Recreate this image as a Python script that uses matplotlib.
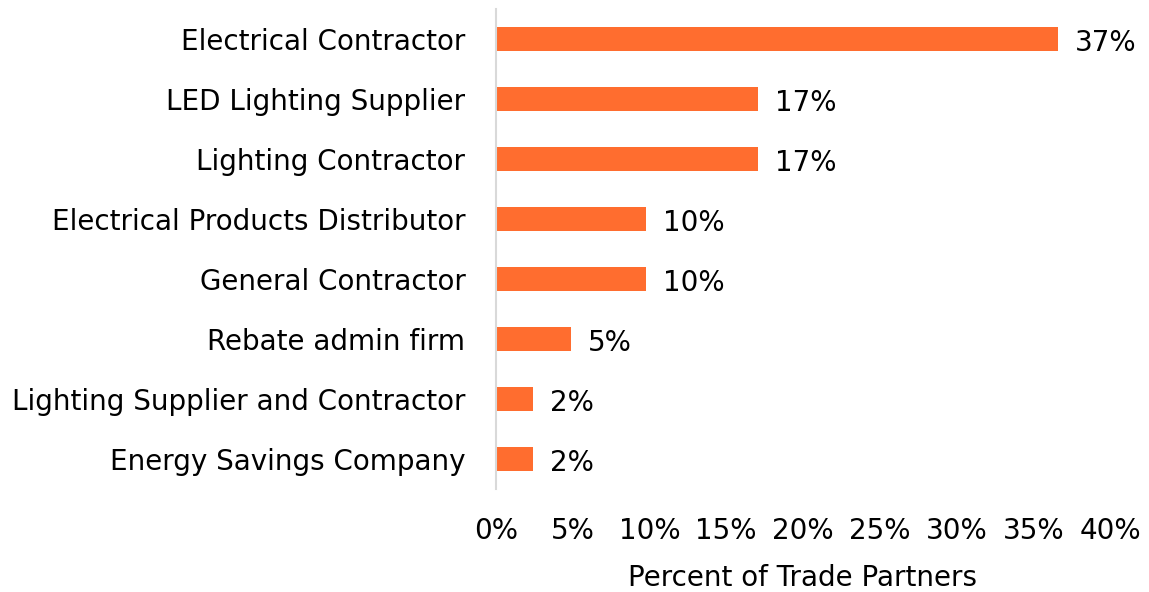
import matplotlib
matplotlib.use("Agg")
import matplotlib.pyplot as plt
from matplotlib.ticker import FuncFormatter

categories = [
    "Electrical Contractor",
    "LED Lighting Supplier",
    "Lighting Contractor",
    "Electrical Products Distributor",
    "General Contractor",
    "Rebate admin firm",
    "Lighting Supplier and Contractor",
    "Energy Savings Company",
]
# shares of 41 trade partners, in percent
values = [36.6, 17.1, 17.1, 9.8, 9.8, 4.9, 2.4, 2.4]
xticks = [0, 5, 10, 15, 20, 25, 30, 35, 40]

plt.rcParams["font.family"] = ["DejaVu Sans"]
fs = 20

fig = plt.figure(figsize=(11.49, 5.92), dpi=100)
ax = fig.add_axes([496 / 1149, 1 - 489 / 592, 614 / 1149, 480 / 592])

ypos = list(range(len(categories)))
ax.barh(ypos, values, height=0.4, color="#ff6d2f")
ax.set_ylim(len(categories) - 0.5, -0.5)
ax.set_xlim(0, 40)
ax.set_yticks(ypos)
ax.set_yticklabels(categories, fontsize=fs)
ax.set_xticks(xticks)
ax.xaxis.set_major_formatter(FuncFormatter(lambda v, p: f"{v:.0f}%"))
ax.tick_params(axis="x", labelsize=fs, length=0, pad=20)
ax.tick_params(axis="y", length=0, pad=22)

for y, v in zip(ypos, values):
    ax.annotate(f"{v:.0f}%", (v, y), xytext=(12, -3), textcoords="offset points",
                ha="left", va="center", fontsize=fs)

for side in ["top", "right", "bottom"]:
    ax.spines[side].set_visible(False)
ax.spines["left"].set_color("#d9d9d9")
ax.spines["left"].set_linewidth(1.5)

ax.set_xlabel("Percent of Trade Partners", fontsize=fs, labelpad=14)

fig.savefig("out.png", dpi=100)
